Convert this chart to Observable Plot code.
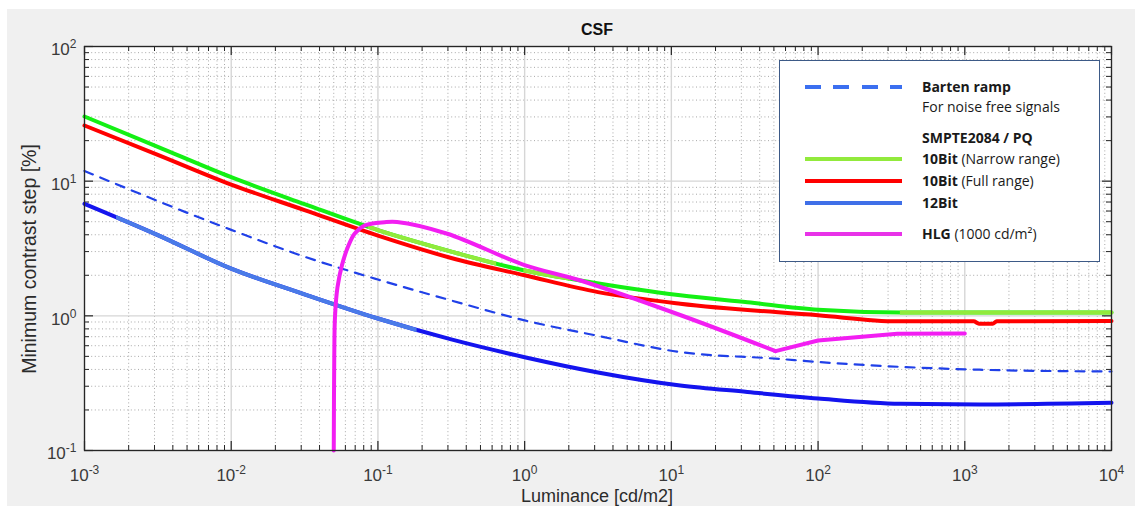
<!DOCTYPE html>
<html><head><meta charset="utf-8">
<script src="https://cdn.jsdelivr.net/npm/d3@7"></script>
<script src="https://cdn.jsdelivr.net/npm/@observablehq/plot@0.6"></script>
<style>
html,body{margin:0;padding:0;background:#fff;}
#wrap{position:relative;width:1135px;height:506px;overflow:hidden;font-family:"Liberation Sans",Arial,sans-serif;}
#bg{position:absolute;left:7px;top:9px;right:0;bottom:0;background:#f0f0f0;}
#chart{position:absolute;left:0;top:0;}
.lbl{position:absolute;color:#2b2b2b;white-space:nowrap;line-height:1;}
#title{left:597px;top:30px;transform:translate(-50%,-50%);font-weight:bold;font-size:16px;color:#111;}
#xlab{left:597px;top:496px;transform:translate(-50%,-50%);font-size:18px;}
#ylab{left:30px;top:259px;transform:translate(-50%,-50%) rotate(-90deg);font-size:19.5px;}
#legend{position:absolute;left:779px;top:60px;width:321px;height:202px;background:#fff;border:1.5px solid #3d5a87;box-sizing:border-box;font-family:"Open Sans",Lato,sans-serif;font-size:14px;color:#1a1a1a;}
.row{position:absolute;left:0;right:0;height:0;}
.sw{position:absolute;left:25px;top:-2px;width:97px;height:4px;}
.tx{position:absolute;left:142px;top:0;transform:translateY(-50%);white-space:nowrap;line-height:1.2;}
.tx b{font-weight:bold;}
</style></head>
<body>
<div id="wrap">
  <div id="bg"></div>
  <div id="chart"></div>
  <div id="title" class="lbl">CSF</div>
  <div id="xlab" class="lbl">Luminance [cd/m2]</div>
  <div id="ylab" class="lbl">Minimum contrast step [%]</div>
  <div id="legend">
    <div class="row" style="top:26px"><div class="sw" style="background:repeating-linear-gradient(to right,#3b6ff0 0 16px,transparent 16px 28.5px)"></div><span class="tx"><b>Barten ramp</b></span></div>
    <div class="row" style="top:46px"><span class="tx">For noise free signals</span></div>
    <div class="row" style="top:77px"><span class="tx"><b>SMPTE2084 / PQ</b></span></div>
    <div class="row" style="top:98px"><div class="sw" style="background:#92ea3c"></div><span class="tx"><b>10Bit</b> (Narrow range)</span></div>
    <div class="row" style="top:120px"><div class="sw" style="background:#ff0000"></div><span class="tx"><b>10Bit</b> (Full range)</span></div>
    <div class="row" style="top:142px"><div class="sw" style="background:#3f6fe8"></div><span class="tx"><b>12Bit</b></span></div>
    <div class="row" style="top:173px"><div class="sw" style="background:#e832e8"></div><span class="tx"><b>HLG</b> (1000 cd/m²)</span></div>
  </div>
</div>
<script>
// ---- data (Luminance cd/m², minimum contrast step %) ----
const xTicks = [1e-3, 1e-2, 1e-1, 1, 10, 100, 1000, 10000];
const yTicks = [0.1, 1, 10, 100];

const bartenRamp = [[0.001,11.9],[0.01,4.35],[0.0316,2.75],[0.1,1.86],[0.316,1.30],[1,0.925],[3.16,0.71],[11.5,0.538],[51.3,0.481],[100,0.454],[1259,0.398],[10000,0.386]];
const pq10Narrow = [[0.001,30.2],[0.00316,18.0],[0.01,10.7],[0.0316,6.76],[0.1,4.33],[0.316,3.0],[1,2.17],[2.4,1.83],[11.5,1.42],[33,1.26],[100,1.11],[363,1.06],[10000,1.06]];
const pq10Full = [[0.001,25.9],[0.00316,15.7],[0.01,9.44],[0.0316,6.1],[0.1,3.94],[0.316,2.69],[1,2.0],[3.16,1.5],[11.5,1.23],[100,1.01],[347,0.91],[1150,0.91],[1250,0.875],[1550,0.875],[1650,0.91],[10000,0.915]];
const pq12 = [[0.001,6.79],[0.00316,3.98],[0.01,2.24],[0.0316,1.445],[0.1,0.955],[0.316,0.668],[1,0.493],[3.16,0.38],[11.5,0.304],[33,0.272],[100,0.243],[363,0.222],[1259,0.22],[10000,0.226]];
const hlg1000 = [[0.0500,0.1],[0.0504,0.5],[0.0510,1.0],[0.0530,1.63],[0.0570,2.4],[0.0624,3.24],[0.0693,4.07],[0.0811,4.69],[0.111,4.96],[0.135,4.98],[0.297,4.07],[1.01,2.37],[2.4,1.83],[11.6,1.01],[51.3,0.547],[100,0.656],[347,0.736],[1000,0.74]];

// luminance ranges where the curves are drawn in their lighter tint
const greenLightRanges = [[0.085,0.61],[0.98,1.95],[361,10000]];
const blueLightRanges = [[0.00164,0.175]];

// ---- derived ----
const minorsOf = (majors) => majors.slice(0,-1).flatMap(m => [2,3,4,5,6,7,8,9].map(k => m*k));
const xMinor = minorsOf(xTicks), yMinor = minorsOf(yTicks);
const fmt = d => "10^" + Math.round(Math.log10(d));
const X = d => d[0], Y = d => d[1];
const W = 1135, H = 506, mL = 84, mR = 24, mT = 46, mB = 56;
const fw = W - mL - mR, fh = H - mT - mB;
const hlgMin = hlg1000.reduce((a,b) => b[0] > 1 && b[1] < a[1] ? b : a, [0, Infinity])[0];

const plot = Plot.plot({
  width: W, height: H,
  marginLeft: mL, marginRight: mR, marginTop: mT, marginBottom: mB,
  style: {background: "transparent", fontFamily: "'Liberation Sans', Arial, sans-serif", fontSize: "17px", color: "#333", overflow: "visible"},
  x: {type: "log", domain: [1e-3, 1e4], ticks: xTicks, tickFormat: fmt, tickSize: 0, tickPadding: 18, label: null},
  y: {type: "log", domain: [0.1, 100], ticks: yTicks, tickFormat: fmt, tickSize: 0, tickPadding: 8, label: null},
  marks: [
    Plot.frame({fill: "white", stroke: null}),
    Plot.ruleX(xMinor, {stroke: "#a8a8a8", strokeDasharray: "1,2.6", strokeWidth: 1}),
    Plot.ruleY(yMinor, {stroke: "#a8a8a8", strokeDasharray: "1,2.6", strokeWidth: 1}),
    Plot.ruleX(xTicks, {stroke: "#d6d6d6", strokeWidth: 1.4}),
    Plot.ruleY(yTicks, {stroke: "#d6d6d6", strokeWidth: 1.4}),
    // inside ticks, all four sides
    Plot.tickX(xTicks, {x: d => d, insetTop: fh - 9, stroke: "#262626", strokeWidth: 1.2}),
    Plot.tickX(xTicks, {x: d => d, insetBottom: fh - 9, stroke: "#262626", strokeWidth: 1.2}),
    Plot.tickX(xMinor, {x: d => d, insetTop: fh - 5, stroke: "#262626", strokeWidth: 1}),
    Plot.tickX(xMinor, {x: d => d, insetBottom: fh - 5, stroke: "#262626", strokeWidth: 1}),
    Plot.tickY(yTicks, {y: d => d, insetRight: fw - 9, stroke: "#262626", strokeWidth: 1.2}),
    Plot.tickY(yTicks, {y: d => d, insetLeft: fw - 9, stroke: "#262626", strokeWidth: 1.2}),
    Plot.tickY(yMinor, {y: d => d, insetRight: fw - 5, stroke: "#262626", strokeWidth: 1}),
    Plot.tickY(yMinor, {y: d => d, insetLeft: fw - 5, stroke: "#262626", strokeWidth: 1}),
    // curves (line order matters for overlay lookup)
    Plot.line(bartenRamp, {x: X, y: Y, stroke: "#2040e8", strokeWidth: 2.2, strokeDasharray: "9,8", curve: "monotone-x"}),
    Plot.line(pq12, {x: X, y: Y, stroke: "#1414ee", strokeWidth: 4, curve: "monotone-x"}),
    Plot.line(pq12, {x: X, y: Y, stroke: "#4a7be8", strokeWidth: 4, curve: "monotone-x", ariaDescription: "blue-light"}),
    Plot.line(pq10Full, {x: X, y: Y, stroke: "#ff0000", strokeWidth: 4, curve: "monotone-x"}),
    Plot.line(pq10Narrow, {x: X, y: Y, stroke: "#14f014", strokeWidth: 4, curve: "monotone-x"}),
    Plot.line(pq10Narrow, {x: X, y: Y, stroke: "#92ea3c", strokeWidth: 4, curve: "monotone-x", ariaDescription: "green-light"}),
    Plot.line(hlg1000.filter(d => d[0] <= hlgMin), {x: X, y: Y, stroke: "#f21ef2", strokeWidth: 4, curve: "catmull-rom"}),
    Plot.line(hlg1000.filter(d => d[0] >= hlgMin), {x: X, y: Y, stroke: "#f21ef2", strokeWidth: 4, curve: "linear"}),
    Plot.frame({stroke: "#262626", strokeWidth: 1.3})
  ]
});
document.getElementById("chart").appendChild(plot);

// superscript exponents on tick labels
const NS = "http://www.w3.org/2000/svg";
plot.querySelectorAll("text").forEach(t => {
  const m = t.textContent.match(/^10\^(-?\d+)$/);
  if (!m) return;
  t.textContent = "";
  const a = document.createElementNS(NS, "tspan"); a.textContent = "10";
  const b = document.createElementNS(NS, "tspan"); b.textContent = m[1];
  b.setAttribute("dy", "-7"); b.setAttribute("font-size", "12px");
  t.append(a, b);
  t.setAttribute("fill", "#3a3a3a");
  if (t.closest('[aria-label^="y-axis"]')) t.setAttribute("transform", (t.getAttribute("transform") || "") + " translate(0,3.5)");
});

// restrict tinted overlays to their luminance ranges
const xs = plot.scale("x");
const px = v => xs.apply ? xs.apply(v) : mL + (Math.log10(v) + 3) / 7 * fw;
let defs = plot.querySelector("defs");
if (!defs) { defs = document.createElementNS(NS, "defs"); plot.insertBefore(defs, plot.firstChild); }
const lineGroups = plot.querySelectorAll('g[aria-label="line"]');
function clipOverlay(desc, idx, ranges) {
  const g = plot.querySelector(`g[aria-description="${desc}"]`) || lineGroups[idx];
  if (!g) return;
  const cp = document.createElementNS(NS, "clipPath");
  cp.setAttribute("id", "clip-" + desc);
  cp.setAttribute("clipPathUnits", "userSpaceOnUse");
  ranges.forEach(([a, b]) => {
    const r = document.createElementNS(NS, "rect");
    const x0 = px(a), x1 = px(b);
    r.setAttribute("x", x0); r.setAttribute("width", Math.max(0, x1 - x0 + 3));
    r.setAttribute("y", 0); r.setAttribute("height", H);
    cp.appendChild(r);
  });
  defs.appendChild(cp);
  g.setAttribute("clip-path", `url(#clip-${desc})`);
}
clipOverlay("green-light", 5, greenLightRanges);
clipOverlay("blue-light", 2, blueLightRanges);
</script>
</body></html>
